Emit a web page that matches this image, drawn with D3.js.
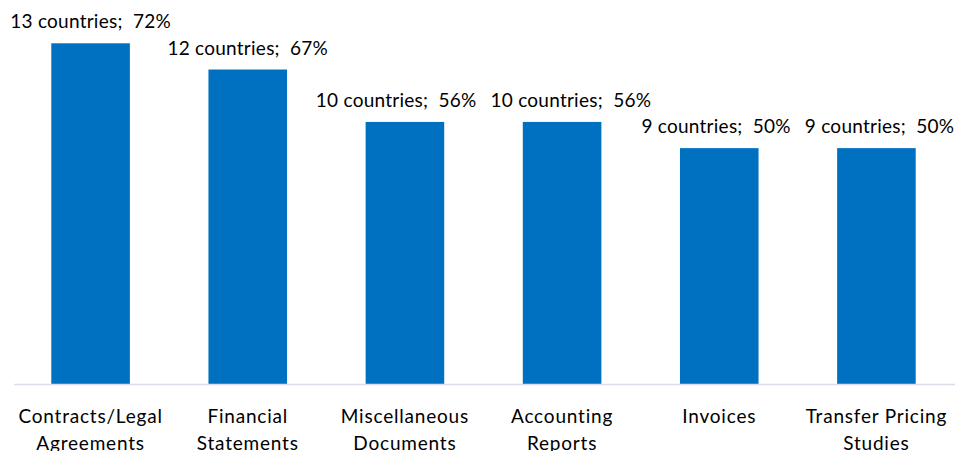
<!DOCTYPE html>
<html>
<head>
<meta charset="utf-8">
<script src="https://cdn.jsdelivr.net/npm/d3@7"></script>
<style>
  html, body { margin: 0; padding: 0; background: #fff; overflow: hidden; }
  svg { display: block; }
  text { font-family: Lato, "Liberation Sans", sans-serif; fill: #000; }
</style>
</head>
<body>
<svg id="chart" width="964" height="451"></svg>
<script>
// Document types and how many countries reported using each
const categories = [
  ["Contracts/Legal", "Agreements"],
  ["Financial", "Statements"],
  ["Miscellaneous", "Documents"],
  ["Accounting", "Reports"],
  ["Invoices"],
  ["Transfer Pricing", "Studies"]
];
const countries = [13, 12, 10, 10, 9, 9];
const percents = [72, 67, 56, 56, 50, 50];

const svg = d3.select("#chart");
const baseY = 384;

const x = d3.scaleBand()
  .domain(d3.range(categories.length))
  .range([12, 955])
  .paddingInner(0.5)
  .paddingOuter(0.25);

const y = d3.scaleLinear()
  .domain([0, 13])
  .range([baseY, 43.3]);

// Bars
svg.append("g")
  .selectAll("rect")
  .data(countries)
  .join("rect")
  .attr("x", (d, i) => x(i))
  .attr("y", d => y(d))
  .attr("width", x.bandwidth())
  .attr("height", d => y(0) - y(d))
  .attr("fill", "#0070C0");

// Baseline
svg.append("line")
  .attr("x1", 14).attr("x2", 955)
  .attr("y1", baseY + 0.5).attr("y2", baseY + 0.5)
  .attr("stroke", "#D9DEE6")
  .attr("stroke-width", 1.5);

// Value labels
const labels = svg.append("g")
  .selectAll("text")
  .data(countries)
  .join("text")
  .attr("x", (d, i) => x(i) + x.bandwidth() / 2)
  .attr("y", d => y(d) - 15)
  .attr("text-anchor", "middle")
  .attr("font-size", 19)
  .attr("letter-spacing", 0.25)
  .style("white-space", "pre")
  .text((d, i) => `${d} countries;  ${percents[i]}%`);

// Spread apart neighbouring labels that sit on the same line and would collide
const minGap = 14;
const nodes = labels.nodes();
for (let i = 0; i < nodes.length - 1; i++) {
  if (countries[i] !== countries[i + 1]) continue;
  const a = nodes[i].getBBox(), b = nodes[i + 1].getBBox();
  const gap = b.x - (a.x + a.width);
  if (gap < minGap) {
    const shift = (minGap - gap) / 2;
    d3.select(nodes[i]).attr("x", +nodes[i].getAttribute("x") - shift);
    d3.select(nodes[i + 1]).attr("x", +nodes[i + 1].getAttribute("x") + shift);
  }
}

// Category labels (two lines)
const cat = svg.append("g")
  .selectAll("text")
  .data(categories)
  .join("text")
  .attr("x", (d, i) => x(i) + x.bandwidth() / 2)
  .attr("y", 423)
  .attr("text-anchor", "middle")
  .attr("font-size", 19)
  .attr("letter-spacing", 0.8);

cat.selectAll("tspan")
  .data(d => d)
  .join("tspan")
  .attr("x", function () { return d3.select(this.parentNode).attr("x"); })
  .attr("dy", (d, j) => j === 0 ? 0 : 27)
  .text(d => d);
</script>
</body>
</html>
